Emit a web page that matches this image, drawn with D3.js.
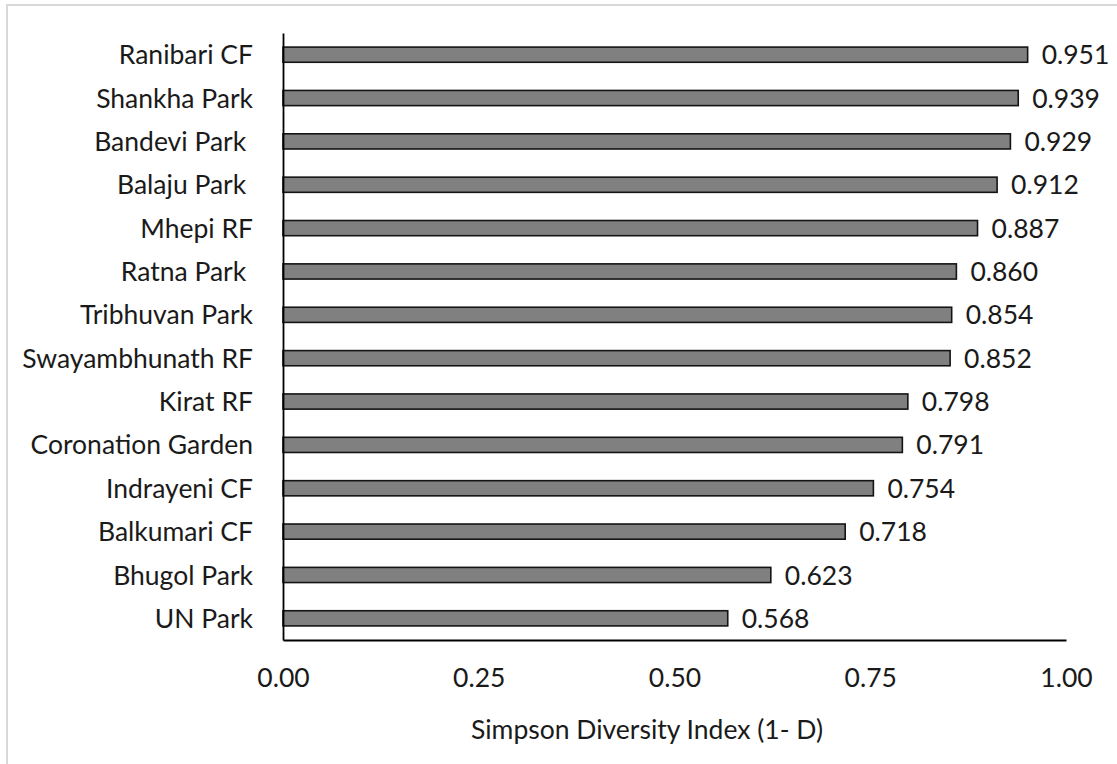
<!DOCTYPE html>
<html>
<head>
<meta charset="utf-8">
<script src="https://cdn.jsdelivr.net/npm/d3@7"></script>
<style>
  html, body { margin: 0; padding: 0; background: #ffffff; }
  svg text { font-family: Lato, "Open Sans", sans-serif; fill: #1a1a1a; white-space: pre; }
</style>
</head>
<body>
<svg id="chart" width="1117" height="764"></svg>
<script>
// Sites, ordered top to bottom
const sites = [
  "Ranibari CF", "Shankha Park", "Bandevi Park ", "Balaju Park ", "Mhepi RF",
  "Ratna Park ", "Tribhuvan Park", "Swayambhunath RF", "Kirat RF",
  "Coronation Garden", "Indrayeni CF", "Balkumari CF", "Bhugol Park", "UN Park"
];
// Simpson diversity index (1 - D) per site
const simpson = [0.951, 0.939, 0.929, 0.912, 0.887, 0.860, 0.854, 0.852,
                 0.798, 0.791, 0.754, 0.718, 0.623, 0.568];
const xTicks = [0, 0.25, 0.5, 0.75, 1.0];
const xTitle = "Simpson Diversity Index (1- D)";

const fontSize = 26.5;
const svg = d3.select("#chart");

// outer chart frame
svg.append("rect")
  .attr("x", 7).attr("y", 5)
  .attr("width", 1130).attr("height", 780)
  .attr("fill", "none")
  .attr("stroke", "#d9d9d9")
  .attr("stroke-width", 2);

const plotLeft = 283, plotRight = 1066, plotTop = 33, plotBottom = 640;

const x = d3.scaleLinear().domain([0, 1]).range([plotLeft, plotRight]);
const y = d3.scaleBand().domain(sites).range([plotTop, plotBottom])
  .paddingInner(0.65).paddingOuter(0.325);

const rows = sites.map((s, i) => ({ site: s, value: simpson[i] }));

// bars
svg.append("g").selectAll("rect")
  .data(rows)
  .join("rect")
  .attr("x", x(0))
  .attr("y", d => y(d.site))
  .attr("width", d => x(d.value) - x(0))
  .attr("height", y.bandwidth())
  .attr("fill", "#808080")
  .attr("stroke", "#141414")
  .attr("stroke-width", 1.6);

// value labels
svg.append("g").selectAll("text")
  .data(rows)
  .join("text")
  .attr("x", d => x(d.value) + 14)
  .attr("y", d => y(d.site) + y.bandwidth() / 2)
  .attr("dy", "0.36em")
  .attr("font-size", fontSize)
  .text(d => d.value.toFixed(3));

// category axis (line only, no ticks)
const yAxis = svg.append("g")
  .attr("transform", `translate(${plotLeft},0)`)
  .call(d3.axisLeft(y).tickSize(0).tickPadding(30));
yAxis.select(".domain").attr("stroke", "#000").attr("stroke-width", 1.8);
yAxis.selectAll(".tick text")
  .attr("font-size", fontSize)
  .attr("font-family", "Lato, 'Open Sans', sans-serif")
  .attr("fill", "#1a1a1a")
  .attr("dy", "0.36em");

// value axis
const xAxis = svg.append("g")
  .attr("transform", `translate(0,${plotBottom})`)
  .call(d3.axisBottom(x).tickValues(xTicks).tickSize(0).tickPadding(28)
    .tickFormat(d3.format(".2f")));
xAxis.select(".domain").attr("stroke", "#000").attr("stroke-width", 1.8);
xAxis.selectAll(".tick text")
  .attr("font-size", fontSize)
  .attr("font-family", "Lato, 'Open Sans', sans-serif")
  .attr("fill", "#1a1a1a");

// axis title
svg.append("text")
  .attr("x", 647)
  .attr("y", 739)
  .attr("text-anchor", "middle")
  .attr("font-size", fontSize)
  .text(xTitle);
</script>
</body>
</html>
